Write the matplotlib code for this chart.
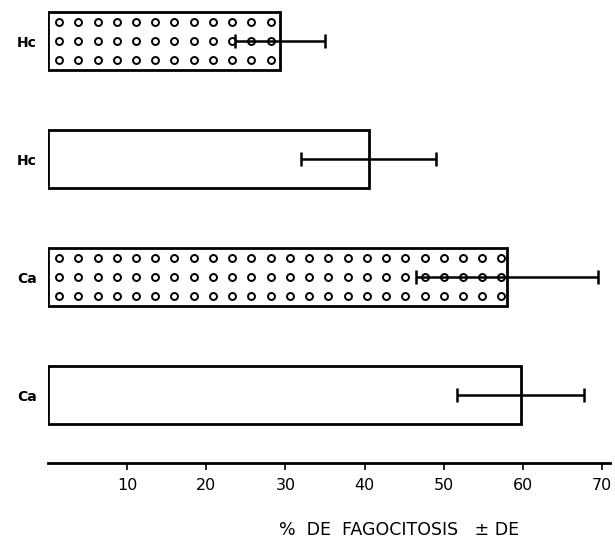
import matplotlib.pyplot as plt
import numpy as np

# bars listed bottom to top
labels = ['Ca', 'Ca', 'Hc', 'Hc']
values = [59.7, 58.0, 40.5, 29.3]
sd = [8.0, 11.5, 8.5, 5.7]
hatched = [False, True, False, True]
ticks = [10, 20, 30, 40, 50, 60, 70]

plt.rcParams['font.family'] = 'DejaVu Sans'

fig = plt.figure(figsize=(6.15, 5.41), dpi=100)
ax = fig.add_axes([48 / 615, (541 - 463) / 541, (610 - 48) / 615, 463 / 541])

y = np.arange(len(labels))
bar_h = 0.49
for i in range(len(labels)):
    ax.barh(y[i], values[i], height=bar_h, color='white', edgecolor='black',
            linewidth=2, zorder=2)
    if hatched[i]:
        # circle pattern filling the bar, 3 rows
        cols = np.arange(1.4, values[i] - 0.3, 2.43)
        for dy in (-0.16, 0.0, 0.16):
            ax.plot(cols, np.full(len(cols), y[i] + dy), linestyle='none',
                    marker='o', markersize=5, markerfacecolor='white',
                    markeredgecolor='black', markeredgewidth=1.4, zorder=2.5)

ax.errorbar(values, y, xerr=sd, fmt='none', ecolor='black', elinewidth=1.8,
            capsize=5, capthick=1.8, zorder=3)

ax.set_xlim(0, 71)
ax.set_ylim(-0.576, 3.35)
ax.set_yticks(y)
ax.set_yticklabels(labels, fontsize=10, fontweight='bold')
ax.tick_params(axis='y', length=0, pad=8)
ax.set_xticks(ticks)
ax.set_xticklabels([str(t) for t in ticks], fontsize=11.5)
ax.tick_params(axis='x', direction='out', length=5, width=1.2, pad=6)

for s in ['top', 'right', 'left']:
    ax.spines[s].set_visible(False)
ax.spines['bottom'].set_linewidth(2)

ax.set_xlabel('%  DE  FAGOCITOSIS   \u00b1 DE', fontsize=12.5)
ax.xaxis.set_label_coords(0.625, -0.125)

fig.savefig('out.png', dpi=100)
